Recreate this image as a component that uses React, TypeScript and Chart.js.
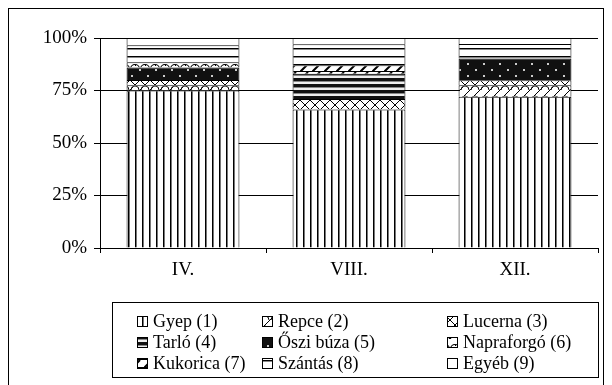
import React, { useEffect, useRef } from "react";
import { Chart, registerables } from "chart.js";

Chart.register(...registerables);

const categories = ["IV.", "VIII.", "XII."];
const seriesNames = [
  "Gyep (1)",
  "Repce (2)",
  "Lucerna (3)",
  "Tarló (4)",
  "Őszi búza (5)",
  "Napraforgó (6)",
  "Kukorica (7)",
  "Szántás (8)",
  "Egyéb (9)",
];
const gyep = [75, 66, 72];
const repce = [2.5, 0, 5.5];
const lucerna = [2.5, 5, 2.4];
const tarlo = [0, 12, 0];
const osziBuza = [6, 0, 10.3];
const napraforgo = [2.5, 0, 0];
const kukorica = [0, 4, 0];
const szantas = [8, 10, 7];
const egyeb = [3.5, 3, 2.8];
const seriesValues = [gyep, repce, lucerna, tarlo, osziBuza, napraforgo, kukorica, szantas, egyeb];
const yTicks = [0, 25, 50, 75, 100];

const FONT = "Liberation Serif";

function tile(w: number, h: number, draw: (c: CanvasRenderingContext2D) => void): CanvasPattern {
  const cv = document.createElement("canvas");
  cv.width = w;
  cv.height = h;
  const c = cv.getContext("2d")!;
  c.fillStyle = "#fff";
  c.fillRect(0, 0, w, h);
  draw(c);
  return c.createPattern(cv, "repeat")!;
}

function makePatterns(): (CanvasPattern | string)[] {
  const gyepP = tile(7, 7, (c) => {
    c.fillStyle = "#000";
    c.fillRect(2, 0, 1, 7);
    c.fillStyle = "#777";
    c.fillRect(3, 0, 1, 7);
  });
  const repceP = tile(10, 10, (c) => {
    c.strokeStyle = "#000";
    c.lineWidth = 1;
    c.beginPath();
    c.moveTo(0, 10);
    c.lineTo(10, 0);
    c.stroke();
    c.beginPath();
    c.arc(5, 10, 4, Math.PI, 2 * Math.PI);
    c.stroke();
  });
  const lucernaP = tile(10, 10, (c) => {
    c.strokeStyle = "#000";
    c.lineWidth = 1;
    c.beginPath();
    c.moveTo(0, 0);
    c.lineTo(10, 10);
    c.moveTo(10, 0);
    c.lineTo(0, 10);
    c.stroke();
  });
  const tarloP = tile(6, 6, (c) => {
    c.fillStyle = "#111";
    c.fillRect(0, 0, 6, 3);
    c.fillStyle = "#888";
    c.fillRect(0, 3, 6, 1);
    c.fillStyle = "#eee";
    c.fillRect(0, 4, 6, 2);
  });
  const osziP = tile(16, 12, (c) => {
    c.fillStyle = "#111";
    c.fillRect(0, 0, 16, 12);
    c.fillStyle = "#ccc";
    c.fillRect(3, 3, 2, 2);
    c.fillRect(11, 9, 2, 2);
  });
  const napraP = tile(10, 10, (c) => {
    c.strokeStyle = "#000";
    c.lineWidth = 1.2;
    c.beginPath();
    c.arc(5, 9, 4.5, Math.PI, 2 * Math.PI);
    c.stroke();
    c.fillStyle = "#000";
    c.fillRect(5, 5, 1, 1);
  });
  const kukoricaP = tile(12, 8, (c) => {
    c.strokeStyle = "#000";
    c.lineWidth = 2;
    c.beginPath();
    c.moveTo(0, 8);
    c.lineTo(8, 0);
    c.stroke();
    c.lineWidth = 1;
    c.beginPath();
    c.moveTo(0, 7.5);
    c.lineTo(12, 7.5);
    c.stroke();
  });
  const szantasP = tile(8, 8, (c) => {
    c.fillStyle = "#000";
    c.fillRect(0, 0, 8, 1);
    c.fillStyle = "#888";
    c.fillRect(0, 1, 8, 1);
  });
  return [gyepP, repceP, lucernaP, tarloP, osziP, napraP, kukoricaP, szantasP, "#ffffff"];
}

export default function App() {
  const ref = useRef<HTMLCanvasElement | null>(null);
  useEffect(() => {
    const canvas = ref.current!;
    const patterns = makePatterns();

    const framePlugin = {
      id: "frame",
      beforeDraw(chart: any) {
        const c = chart.ctx;
        c.save();
        c.fillStyle = "#fff";
        c.fillRect(0, 0, chart.width, chart.height);
        c.strokeStyle = "#000";
        c.lineWidth = 1;
        c.strokeRect(8.5, 8.5, 595, 400);
        c.restore();
      },
    };

    const legendPlugin = {
      id: "customLegend",
      afterDraw(chart: any) {
        const c = chart.ctx;
        c.save();
        c.strokeStyle = "#000";
        c.lineWidth = 1;
        c.strokeRect(112.5, 302.5, 486, 75);
        const colX = [137, 262, 447];
        const rowY = [321, 342, 363];
        c.font = `18px "${FONT}"`;
        c.textBaseline = "middle";
        c.fillStyle = "#000";
        chart.data.datasets.forEach((ds: any, i: number) => {
          const col = i % 3;
          const row = Math.floor(i / 3);
          const x = colX[col];
          const y = rowY[row];
          c.fillStyle = ds.backgroundColor;
          c.fillRect(x, y - 5, 11, 11);
          c.strokeStyle = "#000";
          c.strokeRect(x + 0.5, y - 4.5, 10, 10);
          c.fillStyle = "#000";
          c.fillText(ds.label, x + 16, y + 1);
        });
        c.restore();
      },
    };

    const chart = new Chart(canvas, {
      type: "bar",
      data: {
        labels: categories,
        datasets: seriesNames.map((name, i) => ({
          label: name,
          data: seriesValues[i],
          backgroundColor: patterns[i] as any,
          borderColor: "#000",
          borderWidth: 1,
          barPercentage: 0.68,
          categoryPercentage: 1,
        })),
      },
      options: {
        responsive: false,
        animation: false,
        devicePixelRatio: 1,
        layout: { padding: { left: 0, right: 14, top: 38, bottom: 0 } },
        plugins: { legend: { display: false }, tooltip: { enabled: false } },
        scales: {
          x: {
            stacked: true,
            grid: { display: true, drawOnChartArea: false, offset: true, color: "#000", tickLength: 5 },
            border: { color: "#000" },
            ticks: { color: "#000", font: { family: FONT, size: 19 }, padding: 6 },
            afterFit: (s: any) => {
              s.height = 137;
            },
          },
          y: {
            stacked: true,
            min: 0,
            max: 100,
            afterBuildTicks: (s: any) => {
              s.ticks = yTicks.map((v) => ({ value: v }));
            },
            ticks: {
              color: "#000",
              font: { family: FONT, size: 19 },
              padding: 7,
              callback: (v: any) => `${v}%`,
            },
            grid: { color: "#000", tickLength: 6 },
            border: { color: "#000" },
            afterFit: (s: any) => {
              s.width = 100;
            },
          },
        },
      },
      plugins: [framePlugin, legendPlugin],
    });
    return () => chart.destroy();
  }, []);

  return (
    <canvas
      ref={ref}
      width={612}
      height={385}
      style={{ position: "fixed", left: 0, top: 0, width: 612, height: 385 }}
    />
  );
}
